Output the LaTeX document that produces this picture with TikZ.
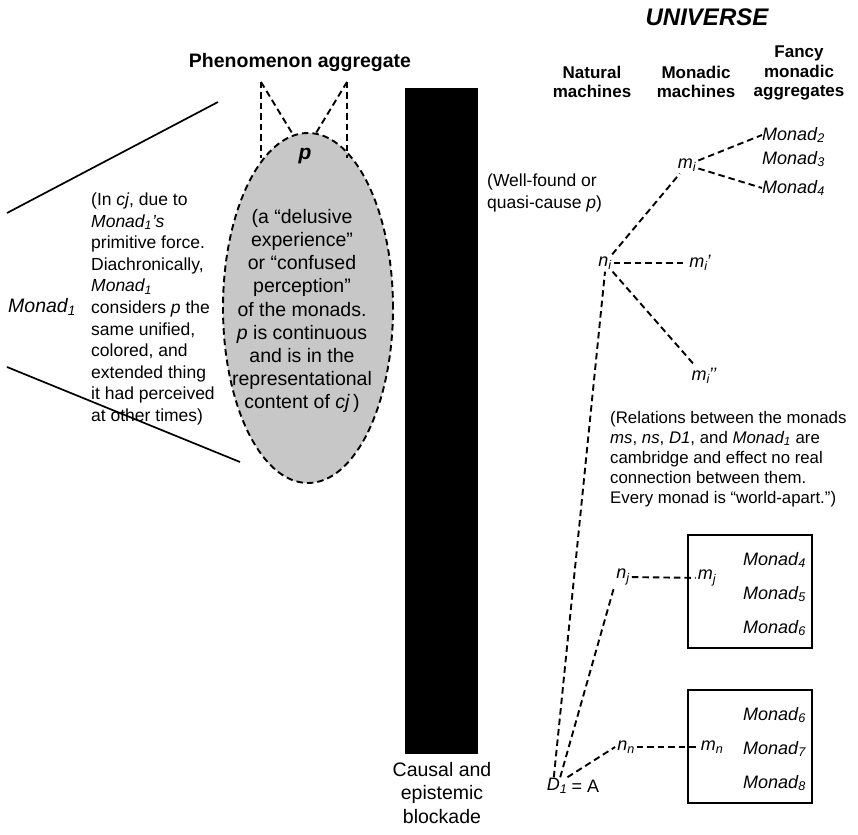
\documentclass[tikz,border=0pt]{standalone}
\usepackage{fontspec}
\setmainfont{Liberation Sans}
\usetikzlibrary{shapes.geometric}
\newcommand\sbs[1]{\textsubscript{#1}}
\tikzset{
  dsh/.style={line width=1.9pt, dash pattern=on 6.5pt off 4pt},
  sld/.style={line width=1.7pt},
  lab/.style={inner sep=2pt, font=\fontsize{18}{21}\selectfont\itshape},
  mon/.style={inner sep=0pt, anchor=west, font=\fontsize{18}{21}\selectfont\itshape},
  hdr/.style={align=center, font=\fontsize{17}{19.5}\selectfont\bfseries},
}
\begin{document}
\begin{tikzpicture}[x=1pt,y=-1pt]
\useasboundingbox (0,0) rectangle (858,834);

% titles
\node[font=\fontsize{24}{28}\selectfont\bfseries\itshape] (univ) at (707,17) {UNIVERSE};
\node[hdr] (hnat) at (592,82) {Natural\\machines};
\node[hdr] (hmon) at (696,82) {Monadic\\machines};
\node[hdr] (hfan) at (799,73) {Fancy\\monadic\\aggregates};
\node[font=\fontsize{19.5}{23}\selectfont\bfseries] (phen) at (300,63) {Phenomenon aggregate};

% left cone lines
\coordinate (lt1) at (7,213);
\coordinate (lt2) at (218,102);
\coordinate (lb1) at (7,367);
\coordinate (lb2) at (240,462);
\draw[sld] (lt1) -- (lt2);
\draw[sld] (lb1) -- (lb2);

\node[font=\fontsize{19.5}{22}\selectfont\itshape, anchor=west, inner sep=0pt] (mon1) at (8,307) {Monad\sbs{1}};
\node[font=\fontsize{17.5}{21.6}\selectfont, align=left, anchor=west, inner sep=0pt] (ltext) at (91,309)
 {(In \textit{cj}, due to\\
  \textit{Monad\sbs{1}’s}\\
  primitive force.\\
  Diachronically,\\
  \textit{Monad\sbs{1}}\\
  considers \textit{p} the\\
  same unified,\\
  colored, and\\
  extended thing\\
  it had perceived\\
  at other times)};

% ellipse
\node[ellipse, draw, dsh, fill=black!22, minimum width=170, minimum height=350, inner sep=0pt] (ell) at (308,308) {};
\node[font=\fontsize{21}{24}\selectfont\bfseries\itshape, inner sep=0pt] (p) at (305,156) {p};
\node[font=\fontsize{19.5}{23.2}\selectfont, align=center, inner sep=0pt] (etext) at (302,311)
 {(a “delusive\\ experience”\\ or “confused\\ perception”\\ of the monads.\\
  \textit{p} is continuous\\ and is in the\\ representational\\ content of \textit{cj}\,)};

% phenomenon aggregate dashed lines
\coordinate (pa1) at (261,82);
\coordinate (pa2) at (347,82);
\coordinate (pe1) at (261,158);
\coordinate (pe2) at (347,158);
\coordinate (pt1) at (292,133);
\coordinate (pt2) at (316,133);
\draw[dsh] (pa1) -- (pe1);
\draw[dsh] (pa2) -- (pe2);
\draw[dsh] (pa1) -- (pt1);
\draw[dsh] (pa2) -- (pt2);

% blockade
\fill (405,88) rectangle (478,754);
\node[font=\fontsize{19.5}{23.5}\selectfont, align=center, anchor=north, inner sep=0pt] (cap) at (442,762) {Causal and\\ epistemic\\ blockade};

\node[font=\fontsize{17.5}{21.5}\selectfont, align=left, anchor=west, inner sep=0pt] (well) at (487,193) {(Well-found or\\ quasi-cause \textit{p})};

% tree
\node[lab] (mi) at (687,165) {m\sbs{i}};
\node[mon] (mon2) at (762,135) {Monad\sbs{2}};
\node[mon] (mon3) at (762,159) {Monad\sbs{3}};
\node[mon] (mon4) at (762,188) {Monad\sbs{4}};
\node[lab] (ni) at (605,263) {n\sbs{i}};
\node[lab] (mip) at (700,263) {m\sbs{i}\kern-1pt’};
\node[lab] (mipp) at (704,376) {m\sbs{i}\kern-1pt’’};
\node[lab,inner sep=1pt] (d1) at (557,786) {D\sbs{1}};
\node[font=\fontsize{18}{21}\selectfont, anchor=west, inner sep=0pt] (eqA) at (d1.east) {\,= A};
\node[lab] (nj) at (623,577) {n\sbs{j}};
\node[lab] (mj) at (707,578) {m\sbs{j}};
\node[lab] (nn) at (626,747) {n\sbs{n}};
\node[lab] (mn) at (712,747) {m\sbs{n}};

\draw[dsh] (mi) -- (mon2.west);
\draw[dsh] (mi) -- (mon4.west);
\draw[dsh] (ni) -- (mi);
\draw[dsh] (ni) -- (mip);
\draw[dsh] (ni) -- (mipp);
\draw[dsh] (d1.110) -- (ni.south);
\draw[dsh] (d1.70) -- (nj.south west);
\draw[dsh] (d1.40) -- (nn.west);
\draw[dsh] (nj) -- (mj);
\draw[dsh] (nn) -- (mn);

\node[font=\fontsize{16.8}{20}\selectfont, align=left, anchor=north west, inner sep=0pt] (rel) at (610,411)
 {(Relations between the monads\\
  \textit{ms}, \textit{ns}, \textit{D1}, and \textit{Monad\sbs{1}} are\\
  cambridge and effect no real\\
  connection between them.\\
  Every monad is “world-apart.”)};

% boxes
\node[draw, sld, minimum width=124, minimum height=113, inner sep=0pt] (boxj) at (750,591.5) {};
\node[mon] (bj1) at (743,560) {Monad\sbs{4}};
\node[mon] (bj2) at (743,594) {Monad\sbs{5}};
\node[mon] (bj3) at (743,628) {Monad\sbs{6}};
\node[draw, sld, minimum width=124, minimum height=113, inner sep=0pt] (boxn) at (750,746.5) {};
\node[mon] (bn1) at (743,715) {Monad\sbs{6}};
\node[mon] (bn2) at (743,749) {Monad\sbs{7}};
\node[mon] (bn3) at (743,783) {Monad\sbs{8}};
\end{tikzpicture}
\end{document}
